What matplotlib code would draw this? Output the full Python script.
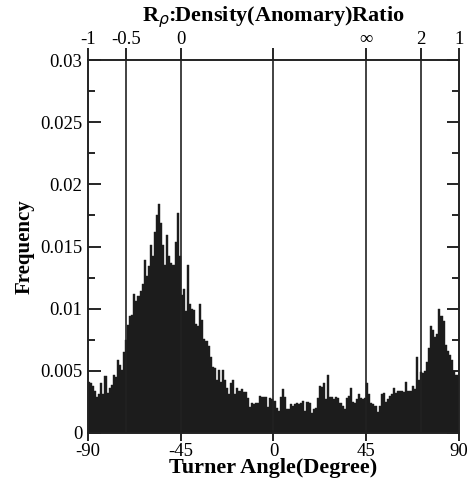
import numpy as np
import matplotlib
matplotlib.use("Agg")
import matplotlib.pyplot as plt

# ---- data ----
bin_left = np.arange(-90, 90, 1)  # Turner angle bins (degree)
frequency = [
    0.0041, 0.0040, 0.0038, 0.0034, 0.0029, 0.0031, 0.0040, 0.0031, 0.0046, 0.0032,
    0.0036, 0.0039, 0.0047, 0.0045, 0.0059, 0.0055, 0.0051, 0.0065, 0.0075, 0.0087,
    0.0094, 0.0095, 0.0112, 0.0106, 0.0110, 0.0114, 0.0120, 0.0139, 0.0126, 0.0134,
    0.0151, 0.0142, 0.0162, 0.0175, 0.0184, 0.0169, 0.0151, 0.0135, 0.0159, 0.0142,
    0.0137, 0.0135, 0.0154, 0.0177, 0.0142, 0.0111, 0.0116, 0.0098, 0.0135, 0.0104,
    0.0100, 0.0099, 0.0088, 0.0086, 0.0104, 0.0091, 0.0076, 0.0074, 0.0070, 0.0061,
    0.0053, 0.0052, 0.0043, 0.0051, 0.0041, 0.0051, 0.0043, 0.0036, 0.0031, 0.0040,
    0.0043, 0.0031, 0.0036, 0.0034, 0.0035, 0.0033, 0.0033, 0.0028, 0.0021, 0.0024,
    0.0023, 0.0024, 0.0024, 0.0030, 0.0029, 0.0029, 0.0029, 0.0021, 0.0028, 0.0027,
    0.0026, 0.0020, 0.0018, 0.0029, 0.0035, 0.0029, 0.0019, 0.0019, 0.0023, 0.0022,
    0.0023, 0.0024, 0.0023, 0.0024, 0.0026, 0.0018, 0.0025, 0.0024, 0.0016, 0.0019,
    0.0020, 0.0028, 0.0038, 0.0037, 0.0040, 0.0027, 0.0047, 0.0029, 0.0029, 0.0027,
    0.0029, 0.0028, 0.0024, 0.0022, 0.0019, 0.0028, 0.0030, 0.0036, 0.0025, 0.0024,
    0.0027, 0.0031, 0.0028, 0.0027, 0.0028, 0.0040, 0.0031, 0.0024, 0.0023, 0.0022,
    0.0017, 0.0022, 0.0031, 0.0032, 0.0025, 0.0027, 0.0030, 0.0031, 0.0036, 0.0032,
    0.0034, 0.0034, 0.0034, 0.0033, 0.0041, 0.0034, 0.0034, 0.0038, 0.0035, 0.0061,
    0.0043, 0.0049, 0.0048, 0.0050, 0.0057, 0.0068, 0.0086, 0.0083, 0.0077, 0.0080,
    0.0100, 0.0094, 0.0090, 0.0071, 0.0066, 0.0063, 0.0059, 0.0050, 0.0047, 0.0047,
]
x_ticks = [-90, -45, 0, 45, 90]
x_ticklabels = ["-90", "-45", "0", "45", "90"]
y_ticks = [0, 0.005, 0.01, 0.015, 0.02, 0.025, 0.03]
y_ticklabels = ["0", "0.005", "0.01", "0.015", "0.02", "0.025", "0.03"]
r_rho_labels = ["-1", "-0.5", "0", "", "\u221e", "2", "1"]
r_rho_angles = [-90, -71.57, -45, 0, 45, 71.57, 90]
ref_lines = [-71.57, -45, 0, 45, 71.57]

SERIF = ["Liberation Serif", "DejaVu Serif"]
plt.rcParams["font.family"] = SERIF

fig = plt.figure(figsize=(4.70, 4.84), dpi=100)
ax = fig.add_axes([0.1872, 0.1054, 0.7894, 0.7706])

ax.bar(bin_left, frequency, width=1.0, align="edge", color="#1c1c1c",
       edgecolor="#1c1c1c", linewidth=0.3, zorder=2)
for xv in ref_lines:
    ax.axvline(xv, color="#222222", lw=1.2, zorder=3)

ax.set_xlim(-90, 90)
ax.set_ylim(0, 0.03)
ax.set_xticks(x_ticks)
ax.set_xticklabels(x_ticklabels)
ax.set_yticks(y_ticks)
ax.set_yticklabels(y_ticklabels)
ax.set_yticks(np.arange(0.0025, 0.03, 0.005), minor=True)

for s in ax.spines.values():
    s.set_linewidth(1.2)
    s.set_color("#222222")

ax.tick_params(axis="x", direction="out", length=6, width=1.2, labelsize=13.5, pad=1)
ax.tick_params(axis="y", which="major", direction="in", length=9, width=1.2,
               labelsize=13.5, right=True, pad=4)
ax.tick_params(axis="y", which="minor", direction="in", length=5, width=1.2, right=True)

ax.set_xlabel("Turner Angle(Degree)", fontsize=16, fontweight="bold", labelpad=-1)
ax.set_ylabel("Frequency", fontsize=15, fontweight="bold", labelpad=4)

ax2 = ax.twiny()
ax2.set_xlim(-90, 90)
ax2.set_xticks(r_rho_angles)
ax2.set_xticklabels(r_rho_labels)
ax2.tick_params(axis="x", direction="out", length=9, width=1.2, labelsize=13.5, pad=0)
for s in ax2.spines.values():
    s.set_linewidth(1.2)
    s.set_color("#222222")

fig.text(0.582, 0.964, r"R$_\rho$:Density(Anomary)Ratio", ha="center", va="center",
         fontsize=16, fontweight="bold")

fig.savefig("out.png", dpi=100)
